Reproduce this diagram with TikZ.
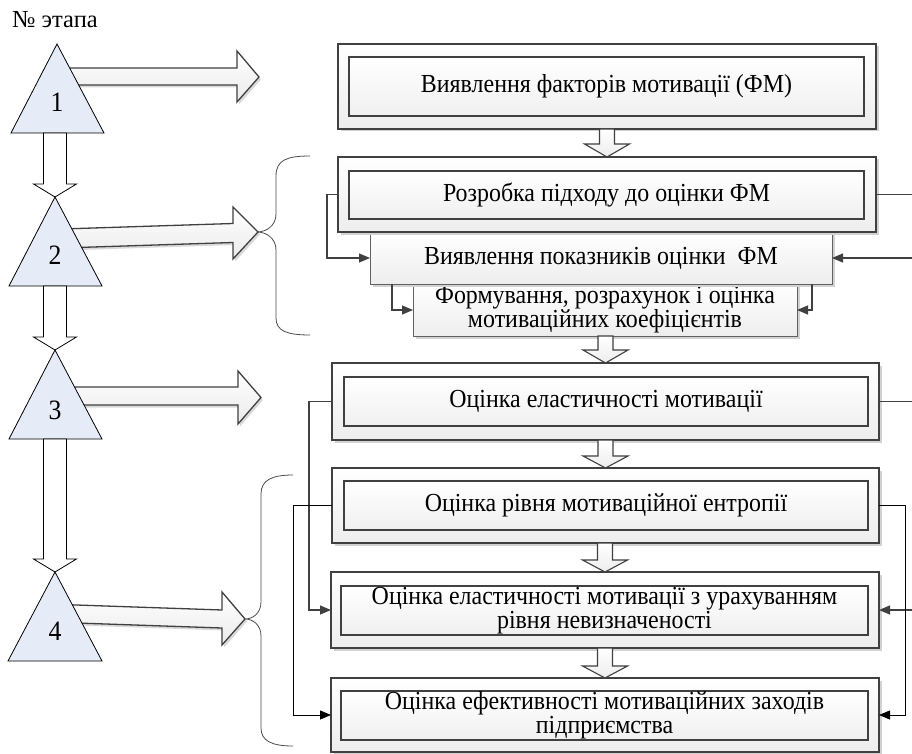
\documentclass[tikz,border=0pt]{standalone}
\usepackage{fontspec}
\setmainfont{Liberation Serif}[FakeStretch=0.92]
\newfontfamily\plainserif{Liberation Serif}
\usetikzlibrary{arrows.meta,calc,shadows}

\definecolor{triblue}{RGB}{229,235,247}
\definecolor{edgegray}{RGB}{64,64,64}
\newcommand\boxfont{\fontsize{26}{24}\selectfont}
\newcommand\numfont{\fontsize{28}{28}\selectfont}
\newcommand\headfont{\plainserif\fontsize{24.5}{24.5}\selectfont}

\tikzset{
  shadowed/.style={drop shadow={shadow xshift=2.5pt, shadow yshift=-2.5pt, fill=gray!35, opacity=1}},
  outerbox/.style={draw=edgegray, line width=1.3pt, top color=white, bottom color=gray!14,
    shadowed, inner sep=0pt, outer sep=0pt},
  innerbox/.style={draw=edgegray, line width=1.3pt, top color=white, bottom color=gray!12,
    inner sep=0pt, outer sep=0pt, align=center, font=\boxfont},
  flatbox/.style={draw=gray!75!black, line width=0.9pt, top color=white, bottom color=gray!14,
    shadowed, inner sep=0pt, outer sep=0pt, align=center, font=\boxfont},
  tri/.style={draw=black, line width=0.8pt, fill=triblue},
  num/.style={font=\numfont, inner sep=0pt},
  hblk/.style={draw=edgegray, line width=1.3pt, top color=white, bottom color=gray!16,
    line join=miter, drop shadow={shadow xshift=2pt, shadow yshift=-2.5pt, fill=gray!30, opacity=1}},
  dblk/.style={draw=edgegray, line width=1.1pt, top color=white, bottom color=gray!14, line join=miter},
  tblk/.style={draw=black, line width=0.8pt, fill=white, line join=miter},
  brace/.style={draw=gray!60!black, line width=0.8pt},
  conn/.style={draw=edgegray, line width=1.2pt, -{Triangle[length=11pt,width=9pt]}},
  connthin/.style={draw=black, line width=0.8pt, -{Triangle[length=11pt,width=9pt]}},
}

% hollow down arrow between two anchors (shaft half-width, head length)
\newcommand\dblock[5]{%
  \draw[#5] let \p1=(#1), \p2=(#2) in
    (\x2-#3,\y1) -- (\x2-#3,\y2+#4) -- (\x2-22.5pt,\y2+#4) -- (\x2,\y2)
    -- (\x2+22.5pt,\y2+#4) -- (\x2+#3,\y2+#4) -- (\x2+#3,\y1) -- cycle;}
\newcommand\tblock[2]{%
  \draw[tblk] let \p1=(#1), \p2=(#2) in
    (\x2-11.5pt,\y1) -- (\x2-11.5pt,\y2+13pt) -- (\x2-21.5pt,\y2+13pt) -- (\x2,\y2)
    -- (\x2+21.5pt,\y2+13pt) -- (\x2+11.5pt,\y2+13pt) -- (\x2+11.5pt,\y1) -- cycle;}

\begin{document}
\begin{tikzpicture}[x=1pt, y=-1pt]
\path[use as bounding box, fill=white] (0,0) rectangle (912,754);
\clip (0,0) rectangle (912,754);

% heading
\node[font=\headfont, anchor=base west, inner sep=0pt] (head) at (12,28) {№ этапа};

% braces
\draw[brace] (310,156) .. controls (287,156) and (276,160) .. (276,176) -- (276,214)
  .. controls (276,226) and (266,232) .. (257,232) .. controls (266,232) and (276,238) .. (276,250)
  -- (276,318) .. controls (276,331) and (287,335) .. (310,335);
\draw[brace] (293,475) .. controls (272,475) and (261,480) .. (261,494) -- (261,602)
  .. controls (261,613) and (253,619) .. (245,619) .. controls (253,619) and (261,625) .. (261,636)
  -- (261,728) .. controls (261,741) and (272,746) .. (293,746);

% horizontal block arrows (drawn behind triangles)
\draw[hblk] (62,68) -- (237,68) -- (237,51) -- (259,77) -- (237,102) -- (237,85) -- (62,85) -- cycle;
\draw[hblk] (62,229) -- (233,223.5) -- (233,207) -- (258,232) -- (233,259) -- (233,242.5) -- (62,248) -- cycle;
\draw[hblk] (62,387) -- (238,387) -- (238,371) -- (261,397.5) -- (238,424) -- (238,405) -- (62,405) -- cycle;
\draw[hblk] (62,604.5) -- (222,610) -- (222,592) -- (245,619) -- (222,645) -- (222,628) -- (62,622.5) -- cycle;

% triangles
\coordinate (t1a) at (57,44);  \coordinate (t1b) at (57,133);
\coordinate (t2a) at (55,197); \coordinate (t2b) at (55,286);
\coordinate (t3a) at (55,350); \coordinate (t3b) at (55,439);
\coordinate (t4a) at (55,572); \coordinate (t4b) at (55,661);
\draw[tri] (t1a) -- ++(-46,89) -- ++(93,0) -- cycle;
\draw[tri] (t2a) -- ++(-46,89) -- ++(93,0) -- cycle;
\draw[tri] (t3a) -- ++(-46,89) -- ++(93,0) -- cycle;
\draw[tri] (t4a) -- ++(-47,89) -- ++(94,0) -- cycle;
\node[num] (n1) at (57,102) {1};
\node[num] (n2) at (55,255) {2};
\node[num] (n3) at (55,410) {3};
\node[num] (n4) at (55,631) {4};
\tblock{t1b}{t2a}
\tblock{t2b}{t3a}
\tblock{t3b}{t4a}

% boxes
\node[outerbox, minimum width=538pt, minimum height=85pt] (o1) at (607,86.5) {};
\node[innerbox, minimum width=515pt, minimum height=59pt] (i1) at (606.5,86.5) {Виявлення факторів мотивації (ФМ)};

\node[flatbox, minimum width=384pt, minimum height=52pt] (b4) at (605,310) {Формування, розрахунок і оцінка\\мотиваційних коефіцієнтів};
\node[flatbox, minimum width=462pt, minimum height=52pt] (b3) at (601,258) {Виявлення показників оцінки\ \ ФМ};
\node[outerbox, minimum width=538pt, minimum height=75pt] (o2) at (607,194.5) {};
\node[innerbox, minimum width=515pt, minimum height=48pt] (i2) at (606.5,195) {Розробка підходу до оцінки ФМ};

\node[outerbox, minimum width=547pt, minimum height=77pt] (o5) at (605.5,401.5) {};
\node[innerbox, minimum width=524pt, minimum height=49pt] (i5) at (606,401.5) {Оцінка еластичності мотивації};
\node[outerbox, minimum width=547pt, minimum height=75pt] (o6) at (605.5,505.5) {};
\node[innerbox, minimum width=524pt, minimum height=49pt] (i6) at (606,505.5) {Оцінка рівня мотиваційної ентропії};
\node[outerbox, minimum width=548pt, minimum height=76pt] (o7) at (605,610) {};
\node[innerbox, minimum width=527pt, minimum height=49pt] (i7) at (604.5,610.5) {Оцінка еластичності мотивації з урахуванням\\рівня невизначеності};
\node[outerbox, minimum width=548pt, minimum height=74pt] (o8) at (605,715) {};
\node[innerbox, minimum width=527pt, minimum height=49pt] (i8) at (604.5,715.5) {Оцінка ефективності мотиваційних заходів\\підприємства};

% down block arrows between boxes
\dblock{o1.south}{o2.north}{7.5pt}{13pt}{dblk}
\dblock{b4.south}{o5.north}{7.5pt}{13pt}{dblk}
\dblock{o5.south}{o6.north}{7.5pt}{12pt}{dblk}
\dblock{o6.south}{o7.north}{7.5pt}{12pt}{dblk}
\dblock{o7.south}{o8.north}{7.5pt}{12pt}{dblk}

% connectors
\coordinate (offR) at (925,0);
\draw[conn] (o2.west) -- ++(-11,0) |- (b3.west);
\draw[conn] ($(b3.south west)+(22,0)$) |- (b4.west);
\draw[conn] (o2.east) -- (o2.east -| offR) |- (b3.east);
\draw[conn] ($(b3.south east)+(-20,0)$) |- (b4.east);
\draw[conn] (o5.west) -- ++(-23,0) |- (o7.west);
\draw[connthin] (o6.west) -- ++(-39,0) |- (o8.west);
\draw[conn] (o5.east) -- (o5.east -| offR) |- (o7.east);
\draw[connthin] (o6.east) -- ++(26,0) |- (o8.east);
\end{tikzpicture}
\end{document}
